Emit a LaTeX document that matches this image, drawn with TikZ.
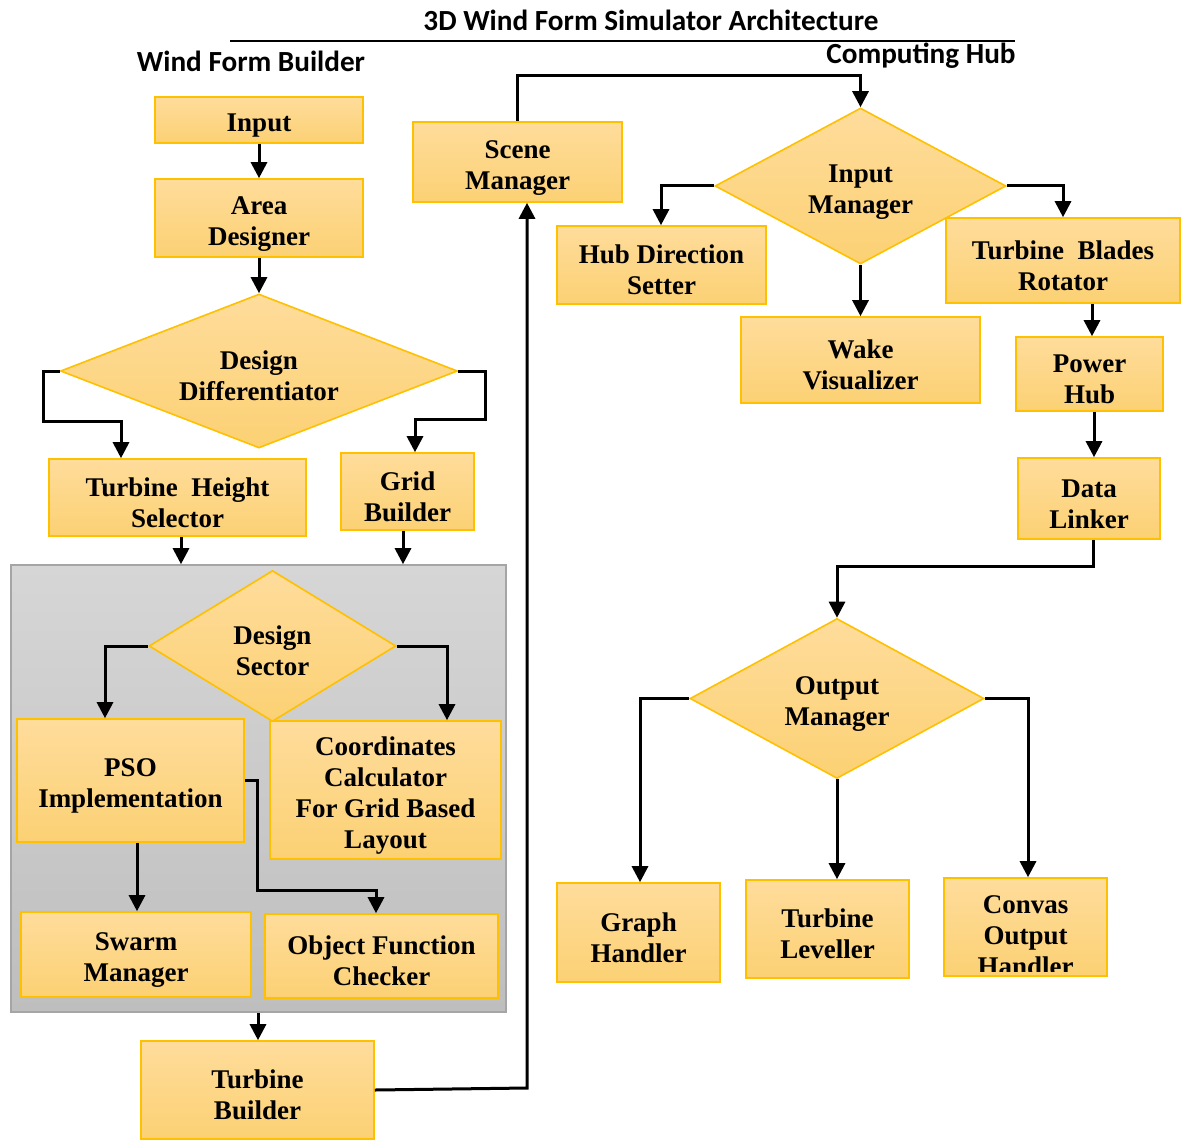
\documentclass[tikz,border=0pt]{standalone}
\usepackage{fontspec}
\setmainfont{Liberation Serif}
\newfontfamily\titlefont{Carlito}
\usetikzlibrary{shapes.geometric,arrows.meta}
\definecolor{gold}{RGB}{255,192,0}
\definecolor{ftop}{RGB}{254,220,155}
\definecolor{fbot}{RGB}{252,209,116}
\definecolor{gtop}{RGB}{214,214,214}
\definecolor{gbot}{RGB}{190,190,190}
\definecolor{gedge}{RGB}{165,165,165}
\newcommand{\tup}{\rule{0pt}{14.5pt}}
\begin{document}
\begin{tikzpicture}[x=0.5pt,y=-0.5pt,
 box/.style={draw=gold, line width=0.8pt, top color=ftop, bottom color=fbot, align=center,
   font=\fontsize{13.5}{15.5}\selectfont\bfseries, inner sep=0pt},
 dia/.style={box, diamond, shape aspect=2.2},
 arr/.style={line width=1.5pt, -{Triangle[length=8pt,width=8pt]}},
 ttl/.style={font=\titlefont\bfseries\fontsize{14.6}{17}\selectfont, inner sep=0pt}]
\useasboundingbox (0,0) rectangle (1181,1139);

% titles
\node[ttl] (title) at (651,20) {3D Wind Form Simulator Architecture};
\coordinate (tl1) at (230,41);
\coordinate (tl2) at (1015,41);
\draw[line width=1pt] (tl1) -- (tl2);
\node[ttl] (wfb) at (251,61) {Wind Form Builder};
\node[ttl] (chub) at (921,56) {Computing Hub};

% gray panel
\node[draw=gedge, line width=0.8pt, top color=gtop, bottom color=gbot,
  minimum width=247.5pt, minimum height=223.5pt, inner sep=0pt] (panel) at (258.5,788.5) {};

% left column
\node[box, minimum width=104pt, minimum height=23pt] (input) at (259,120) {\tup Input};
\node[box, minimum width=104pt, minimum height=39pt] (area) at (259,218) {\tup Area\\Designer};
\node[dia, minimum width=198.5pt, minimum height=77pt, shape aspect=2.58] (dd) at (259,371) {\tup Design\\Differentiator};
\node[box, minimum width=128.5pt, minimum height=38.5pt] (ths) at (177.5,497.5) {\tup Turbine\ \ Height\\Selector};
\node[box, minimum width=66.5pt, minimum height=38.5pt] (gb) at (407.5,491.5) {\tup Grid\\Builder};
\node[dia, minimum width=123.5pt, minimum height=75.5pt, shape aspect=1.64] (ds) at (272.5,646) {\tup Design\\Sector};
\node[box, minimum width=113.5pt, minimum height=61.5pt] (pso) at (130.5,780.5) {\tup PSO\\Implementation};
\node[box, minimum width=115.5pt, minimum height=69pt] (cc) at (385.5,790) {\tup Coordinates\\Calculator\\For Grid Based\\Layout};
\node[box, minimum width=115pt, minimum height=42.5pt] (sw) at (136,954.5) {\tup Swarm\\Manager};
\node[box, minimum width=116.5pt, minimum height=42pt] (ofc) at (381.5,956) {\tup Object Function\\Checker};
\node[box, minimum width=116.5pt, minimum height=49pt] (tb) at (257.5,1090) {\tup Turbine\\Builder};

% right part
\node[box, minimum width=104.5pt, minimum height=40pt] (sm) at (517.5,162) {\tup Scene\\Manager};
\node[dia, minimum width=145.5pt, minimum height=78pt, shape aspect=1.87] (im) at (860.5,186) {\tup Input\\Manager};
\node[box, minimum width=104.5pt, minimum height=39pt] (hds) at (661.5,265) {\tup Hub Direction\\Setter};
\node[box, minimum width=117pt, minimum height=42.5pt] (tbr) at (1063,260.5) {\tup Turbine\ \ Blades\\Rotator};
\node[box, minimum width=119.5pt, minimum height=43pt] (wv) at (860.5,360) {\tup Wake\\Visualizer};
\node[box, minimum width=73.5pt, minimum height=37pt] (ph) at (1089.5,374) {\tup Power\\Hub};
\node[box, minimum width=71pt, minimum height=40.5pt] (dl) at (1089,498.5) {\tup Data\\Linker};
\node[dia, minimum width=147pt, minimum height=80pt, shape aspect=1.84] (om) at (837,698.5) {\tup Output\\Manager};
\node[box, minimum width=81.5pt, minimum height=49.5pt] (gh) at (638.5,932.5) {\tup Graph\\Handler};
\node[box, minimum width=81.5pt, minimum height=49pt] (tlv) at (827.5,929) {\tup Turbine\\Leveller};
\node[box, minimum width=81.5pt, minimum height=49pt] (coh) at (1025.5,927) {};
\begin{scope}
\clip (944,870) rectangle (1107,971);
\node[align=center, font=\fontsize{13.5}{15.5}\selectfont\bfseries, inner sep=0pt] (cohtxt) at (1025.5,936) {Convas\\Output\\Handler};
\end{scope}

% helper coordinates
\coordinate (c3a) at (43,421);
\coordinate (c3b) at (121,421);
\coordinate (c4a) at (485,419);
\coordinate (c4b) at (415,419);
\coordinate (k5) at (181,0);
\coordinate (k6) at (403,0);
\coordinate (k7) at (105,0);
\coordinate (k8) at (447,0);
\coordinate (k9) at (137,0);
\coordinate (k10a) at (257,890);
\coordinate (k10b) at (376,0);
\coordinate (k11) at (258,0);
\coordinate (k12) at (527,1088);
\coordinate (k13) at (700,76);
\coordinate (k14) at (661,0);
\coordinate (k15) at (1063,0);
\coordinate (k17) at (1092,0);
\coordinate (k18) at (1094,0);
\coordinate (k19) at (1093,566);
\coordinate (k20) at (640,0);
\coordinate (k22) at (1028,0);

% connectors
\draw[arr] (input.south) -- (area.north);
\draw[arr] (area.south) -- (dd.north);
\draw[arr] (dd.west) -| (c3a) -- (c3b) -- (c3b |- ths.north);
\draw[arr] (dd.east) -| (c4a) -- (c4b) -- (c4b |- gb.north);
\draw[arr] (k5 |- ths.south) -- (k5 |- panel.north);
\draw[arr] (k6 |- gb.south) -- (k6 |- panel.north);
\draw[arr] (ds.west) -| (k7 |- pso.north);
\draw[arr] (ds.east) -| (k8 |- cc.north);
\draw[arr] (k9 |- pso.south) -- (k9 |- sw.north);
\draw[arr] (pso.east) -| (k10a) -| (k10b |- ofc.north);
\draw[arr] (k11 |- panel.south) -- (k11 |- tb.north);
\draw[arr] (tb.east) -- (k12) -- (k12 |- sm.south);
\draw[arr] (sm.north) |- (k13) -| (im.north);
\draw[arr] (im.west) -| (k14 |- hds.north);
\draw[arr] (im.east) -| (k15 |- tbr.north);
\draw[arr] (im.south) -- (im.south |- wv.north);
\draw[arr] (k17 |- tbr.south) -- (k17 |- ph.north);
\draw[arr] (k18 |- ph.south) -- (k18 |- dl.north);
\draw[arr] (k19 |- dl.south) -- (k19) -| (om.north);
\draw[arr] (om.west) -| (k20 |- gh.north);
\draw[arr] (om.south) -- (om.south |- tlv.north);
\draw[arr] (om.east) -| (k22 |- coh.north);
\end{tikzpicture}
\end{document}
